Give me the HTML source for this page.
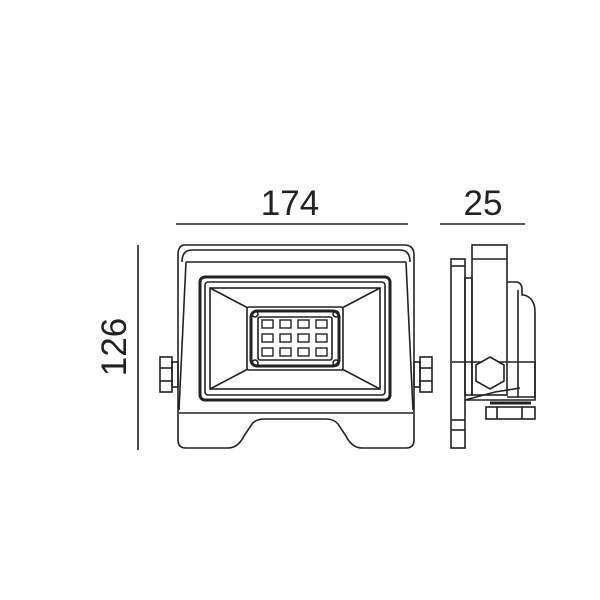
<!DOCTYPE html><html><head><style>body{margin:0;background:#fff}svg{display:block}text{font-family:"Liberation Sans",sans-serif;font-size:35px;fill:#222}</style></head><body>
<svg width="600" height="600" viewBox="0 0 600 600" fill="none" stroke="#222" stroke-width="1.6">
<line x1="176" y1="224" x2="408" y2="224"/>
<line x1="440" y1="224" x2="525" y2="224"/>
<line x1="138" y1="245" x2="138" y2="450"/>
<text x="290" y="215" text-anchor="middle" stroke="none">174</text>
<text x="483" y="215" text-anchor="middle" stroke="none">25</text>
<text transform="translate(126,347) rotate(-90)" text-anchor="middle" stroke="none">126</text>
<path d="M185 245 H404 Q414 245 414 255 V440 Q414 448 406 448 H362 Q352 448 346 436 L338 424 Q334 419 326 419 H264 Q256 419 252 424 L244 436 Q238 448 228 448 H186 Q178 448 178 440 V255 Q178 245 185 245 Z"/>
<path d="M182 262 Q182 250 192 250 H400 Q410 250 410 262"/>
<line x1="186" y1="262" x2="406" y2="262"/>
<line x1="186" y1="262" x2="179" y2="410"/>
<line x1="406" y1="262" x2="413" y2="410"/>
<line x1="179" y1="413" x2="413" y2="413"/>
<rect x="200" y="277" width="190" height="123" rx="5" stroke-width="3"/>
<rect x="205" y="282" width="180" height="113" rx="3"/>
<rect x="210" y="288" width="170" height="101"/>
<line x1="210" y1="288" x2="248" y2="308"/><line x1="380" y1="288" x2="342" y2="308"/>
<line x1="210" y1="389" x2="248" y2="369"/><line x1="380" y1="389" x2="342" y2="369"/>
<rect x="247" y="307" width="96" height="63" rx="2"/>
<rect x="251" y="311" width="88" height="55" rx="6" stroke-width="3"/>
<rect x="258" y="317" width="74" height="43" rx="2"/>
<g stroke-width="1.4">
<rect x="262" y="320" width="11" height="8"/><rect x="280" y="320" width="11" height="8"/><rect x="298" y="320" width="11" height="8"/><rect x="316" y="320" width="11" height="8"/>
<rect x="262" y="334" width="11" height="8"/><rect x="280" y="334" width="11" height="8"/><rect x="298" y="334" width="11" height="8"/><rect x="316" y="334" width="11" height="8"/>
<rect x="262" y="348" width="11" height="8"/><rect x="280" y="348" width="11" height="8"/><rect x="298" y="348" width="11" height="8"/><rect x="316" y="348" width="11" height="8"/>
</g>
<circle cx="255" cy="314" r="3"/><circle cx="336" cy="314" r="3"/><circle cx="255" cy="363" r="3"/><circle cx="336" cy="363" r="3"/>
<rect x="160" y="357" width="12" height="35"/><line x1="160" y1="368" x2="172" y2="368"/><line x1="160" y1="381" x2="172" y2="381"/>
<rect x="172" y="362" width="6" height="25"/>
<rect x="420" y="357" width="12" height="35"/><line x1="420" y1="368" x2="432" y2="368"/><line x1="420" y1="381" x2="432" y2="381"/>
<rect x="414" y="362" width="6" height="25"/>
<rect x="451" y="259" width="14" height="189"/>
<line x1="451" y1="266" x2="465" y2="266"/><line x1="451" y1="420" x2="465" y2="420"/><line x1="451" y1="430" x2="465" y2="430"/>
<rect x="472" y="245" width="35" height="150"/>
<line x1="472" y1="259" x2="507" y2="259"/>
<rect x="465" y="278" width="7" height="117"/>
<path d="M507 282 H516 Q521 282 522 288 V295 H524 Q535 298 535 312 V397 H507"/>
<line x1="518" y1="290" x2="518" y2="397"/>
<path d="M452 362 H535 V400 H465 L495 392 L520 388"/>
<polygon points="490,357 504,365 504,381 490,389 476,381 476,365" fill="#fff"/>
<rect x="486" y="407" width="49" height="12"/>
<line x1="497" y1="407" x2="497" y2="419"/><line x1="522" y1="407" x2="522" y2="419"/>
<line x1="490" y1="403" x2="531" y2="403" stroke-width="3"/>
</svg></body></html>
